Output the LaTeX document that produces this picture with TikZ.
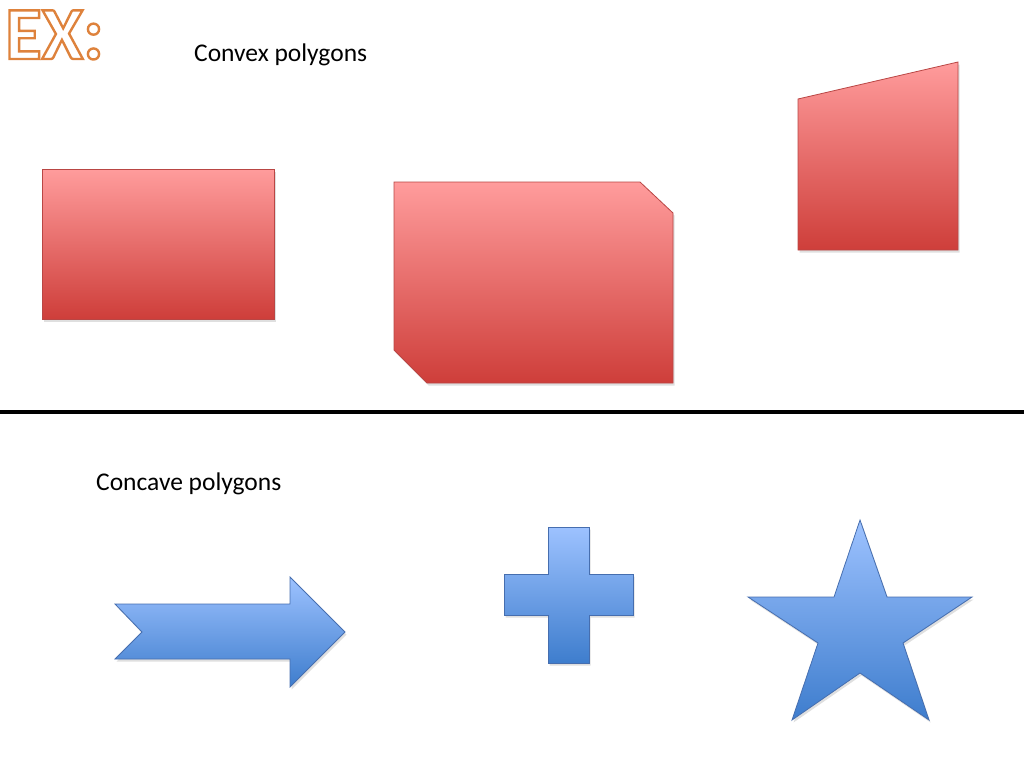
\documentclass[tikz,border=0pt]{standalone}
\usepackage{fontspec}
\setmainfont{Carlito}
\usetikzlibrary{shadows}
\definecolor{redtop}{RGB}{255,156,156}
\definecolor{redbot}{RGB}{206,62,58}
\definecolor{redline}{RGB}{185,70,68}
\definecolor{bluetop}{RGB}{157,194,255}
\definecolor{bluebot}{RGB}{62,125,205}
\definecolor{blueline}{RGB}{70,110,175}
\definecolor{exorange}{RGB}{222,130,60}
\newcommand{\outlinetext}[1]{{\color{exorange}\special{pdf:literal direct 1 1 1 rg 2 Tr 2.4 w}#1\special{pdf:literal direct 0 Tr}}}
\tikzset{
  redshape/.style={draw=redline, line width=0.8pt, top color=redtop, bottom color=redbot,
    drop shadow={shadow xshift=1.5pt, shadow yshift=-2.5pt, opacity=0.25}},
  blueshape/.style={draw=blueline, line width=0.8pt, top color=bluetop, bottom color=bluebot,
    drop shadow={shadow xshift=1.5pt, shadow yshift=-2.5pt, opacity=0.25}},
  label/.style={anchor=base west, inner sep=0pt, font=\fontsize{25.5}{30}\selectfont}
}
\begin{document}
\begin{tikzpicture}[x=1pt,y=-1pt]
\useasboundingbox (0,0) rectangle (1024,768);
% title
\node[anchor=base west, inner sep=0pt, font=\fontsize{75}{80}\selectfont\bfseries] (ex) at (5,59) {\outlinetext{EX:}};
\node[label] (convex) at (194,61) {Convex polygons};
\node[label] (concave) at (96,490) {Concave polygons};
% convex shapes
\path[redshape] (42,169) rectangle (274,319);
\path[redshape] (394,182) -- (640,182) -- (673,213) -- (673,383) -- (427,383) -- (394,350) -- cycle;
\path[redshape] (798,99) -- (958,62) -- (958,250) -- (798,250) -- cycle;
% divider
\draw[line width=4pt] (0,412) -- (1024,412);
% concave shapes
\path[blueshape] (115,604) -- (290,604) -- (290,577) -- (345,632) -- (290,687) -- (290,659) -- (115,659) -- (142,632) -- cycle;
\path[blueshape] (548,527) -- (589,527) -- (589,574) -- (633,574) -- (633,615) -- (589,615) -- (589,663) -- (548,663) -- (548,615) -- (504,615) -- (504,574) -- (548,574) -- cycle;
\path[blueshape] (860,520) -- (887,597) -- (972,597) -- (903,643) -- (929,720) -- (860,673) -- (792,720) -- (818,643) -- (748,597) -- (834,597) -- cycle;
\end{tikzpicture}
\end{document}
